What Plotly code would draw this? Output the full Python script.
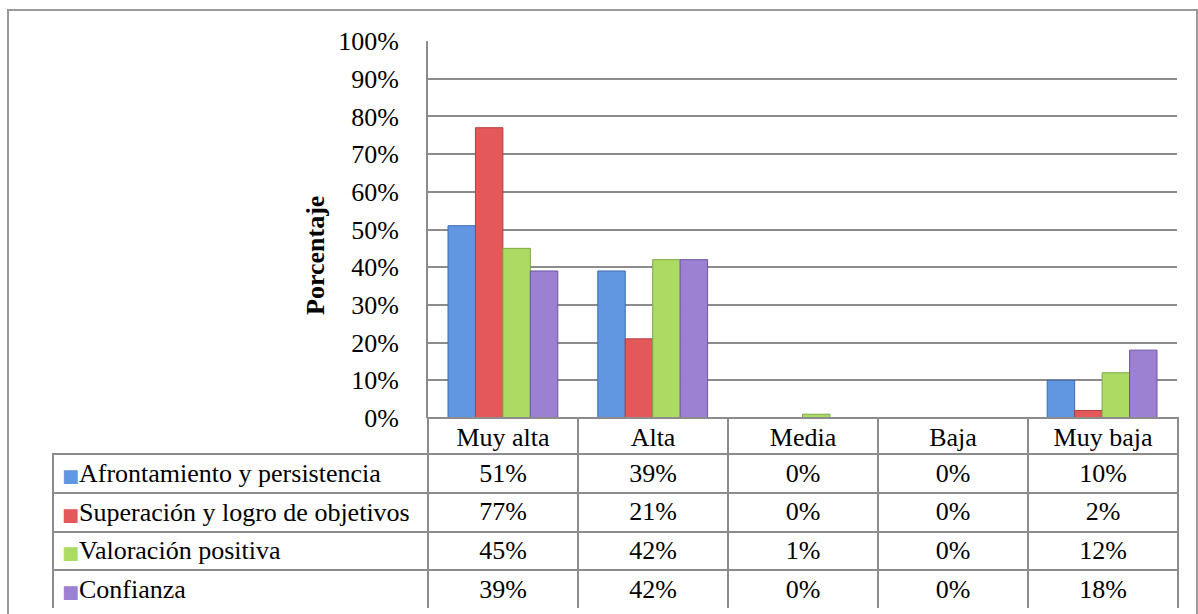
import plotly.graph_objects as go

categories = ["Muy alta", "Alta", "Media", "Baja", "Muy baja"]
series_names = [
    "Afrontamiento y persistencia",
    "Superación y logro de objetivos",
    "Valoración positiva",
    "Confianza",
]
afrontamiento = [0.51, 0.39, 0.00, 0.00, 0.10]
superacion = [0.77, 0.21, 0.00, 0.00, 0.02]
valoracion = [0.45, 0.42, 0.01, 0.00, 0.12]
confianza = [0.39, 0.42, 0.00, 0.00, 0.18]
series_values = [afrontamiento, superacion, valoracion, confianza]
colors = ["#6097E0", "#E4585A", "#ABDB62", "#9C80D2"]
edge_colors = ["#3E6BB0", "#B23E3E", "#7FA844", "#6E54A4"]
y_ticks = [0, 0.1, 0.2, 0.3, 0.4, 0.5, 0.6, 0.7, 0.8, 0.9, 1.0]

W, H = 1198, 614
FONT = "Liberation Serif"
FS = 26
GRID = "#8c8c8c"

# layout geometry (pixels)
PX_L, PX_R, PY_T, PY_B = 428, 1177, 41, 418
TBL_L, TBL_B = 53, 609
HEADER_H, ROW_H = 36, 38.75

fig = go.Figure()
for name, vals, c, ec in zip(series_names, series_values, colors, edge_colors):
    fig.add_trace(go.Bar(
        x=categories, y=vals, name=name,
        marker=dict(color=c, line=dict(color=ec, width=[1 if v > 0 else 0 for v in vals])),
    ))

value_columns = []
for j in range(len(categories)):
    value_columns.append([f"{round(v[j] * 100)}%" for v in series_values])
label_cells = [""] * len(series_names)

n = len(categories)
fig.add_trace(go.Table(
    domain=dict(x=[TBL_L / W, (PX_R + 1) / W], y=[(H - TBL_B) / H, (H - PY_B) / H]),
    columnwidth=[PX_L - TBL_L] + [(PX_R + 1 - PX_L) / n] * n,
    header=dict(
        values=[""] + categories,
        height=HEADER_H,
        align="center",
        fill=dict(color=["rgba(0,0,0,0)"] + ["white"] * n),
        line=dict(color=["rgba(0,0,0,0)"] + [GRID] * n, width=2),
        font=dict(family=FONT, size=FS, color="black"),
    ),
    cells=dict(
        values=[label_cells] + value_columns,
        height=ROW_H,
        align=["left"] + ["center"] * n,
        fill=dict(color="white"),
        line=dict(color=GRID, width=2),
        font=dict(family=FONT, size=FS, color="black"),
    ),
))

annotations = [dict(
    text="<b>Porcentaje</b>", textangle=-90,
    xref="paper", yref="paper",
    x=316 / W, y=(H - 256) / H,
    xanchor="center", yanchor="middle", showarrow=False,
    font=dict(family=FONT, size=FS, color="black"),
)]
# legend keys + series names in the table's first column
for i, (name, c) in enumerate(zip(series_names, colors)):
    yc = PY_B + HEADER_H + ROW_H * (i + 0.5)
    annotations.append(dict(
        text=f'<span style="color:{c};font-size:18px;font-family:DejaVu Sans">■</span>{name}',
        xref="paper", yref="paper",
        x=60 / W, y=(H - yc) / H, xanchor="left", yanchor="middle",
        showarrow=False, font=dict(family=FONT, size=FS, color="black"),
    ))

x0f, x1f, ytf = 8 / W, 1197 / W, (H - 10) / H
fig.update_layout(
    width=W, height=H,
    margin=dict(l=0, r=0, t=0, b=0, autoexpand=False),
    paper_bgcolor="white", plot_bgcolor="white",
    barmode="group", bargap=0.267, bargroupgap=0,
    showlegend=False,
    font=dict(family=FONT, size=FS, color="black"),
    xaxis=dict(domain=[PX_L / W, PX_R / W], showticklabels=False, showgrid=False,
               showline=False, zeroline=False, ticks="", automargin=False),
    yaxis=dict(
        domain=[(H - PY_B) / H, (H - PY_T) / H],
        range=[0, 1.0], tickvals=y_ticks, tickformat=".0%",
        showgrid=True, gridcolor=GRID, gridwidth=2,
        showline=True, linecolor=GRID, linewidth=2,
        zeroline=False, automargin=False,
        ticks="outside", ticklen=22, tickcolor="rgba(0,0,0,0)",
        tickfont=dict(family=FONT, size=FS, color="black"),
    ),
    annotations=annotations,
    shapes=[dict(
        type="path", xref="paper", yref="paper",
        path=f"M {x0f},0 L {x0f},{ytf} L {x1f},{ytf} L {x1f},0",
        line=dict(color="#9a9a9a", width=2),
        layer="below",
    )],
)

fig.write_html("out.html")
